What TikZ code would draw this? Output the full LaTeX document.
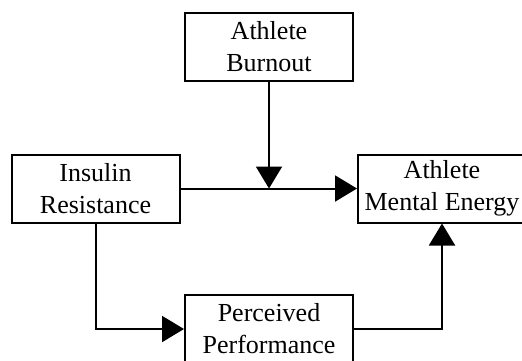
\documentclass[tikz,border=0pt]{standalone}
\usepackage{fontspec}
\setmainfont{Liberation Serif}
\usetikzlibrary{arrows.meta}

\begin{document}
\begin{tikzpicture}[
      x=0.5pt, y=-0.5pt,
      box/.style={rectangle, draw, line width=1pt, minimum width=84pt, minimum height=34pt,
        align=center, inner sep=0pt, font=\fontsize{13pt}{16pt}\selectfont},
      arr/.style={line width=1pt, -{Triangle[length=11pt,width=13pt]}}
    ]
    \useasboundingbox (0,0) rectangle (522,360);
    \clip (0,0) rectangle (522,360);
    \node[box] (ab) at (269,47) {Athlete\\Burnout};
    \node[box] (ir) at (95.5,188.5) {Insulin\\Resistance};
    \node[box] (ame) at (442,188.5) {Athlete\\Mental Energy};
    \node[box] (pp) at (269,329) {Perceived\\Performance};
    \draw[arr] (ir) -- (ame);
    \draw[arr] (ab) -- (ab |- ir.east);
    \draw[arr] (ir.south) |- (pp.west);
    \draw[arr] (pp.east) -| (ame.south);
  \end{tikzpicture}
\end{document}
